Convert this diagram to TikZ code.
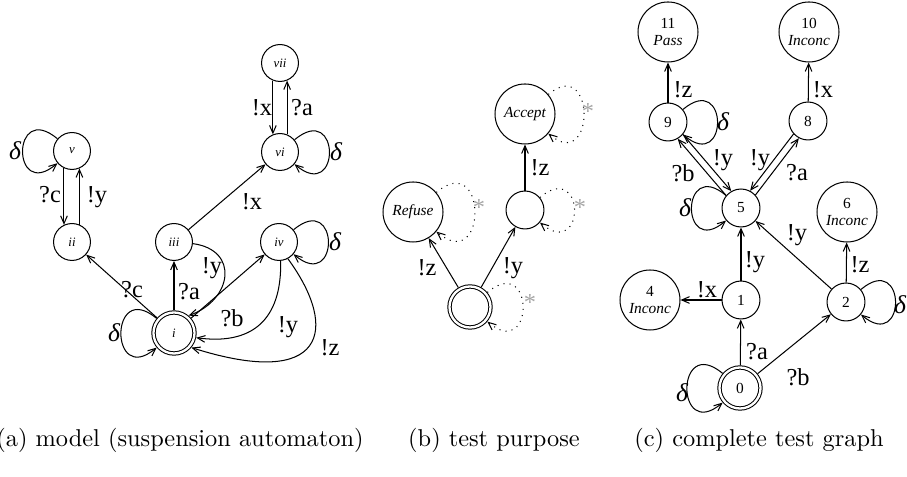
\documentclass[tikz,border=0pt]{standalone}
\usepackage{fontspec}
\newfontfamily\tms{Liberation Serif}
\usetikzlibrary{arrows.meta}
\begin{document}
\begin{tikzpicture}[x=0.39pt,y=-0.39pt,
  arr/.style={-{Straight Barb[length=3pt,width=2.6pt]}},
  sa/.style={circle,draw,inner sep=0pt,minimum size=14.4pt,font=\fontsize{5}{6}\tms\itshape},
  sc/.style={circle,draw,inner sep=0pt,minimum size=14.8pt,font=\fontsize{6}{7}\tms},
  sb/.style={circle,draw,inner sep=0pt,minimum size=23.4pt,font=\fontsize{6}{6.5}\tms\itshape,align=center},
  ini/.style={circle,draw,double,double distance=0.9pt,inner sep=0pt,minimum size=16pt,outer sep=0.85pt},
  lbl/.style={font=\fontsize{9.5}{10}\tms,inner sep=0pt},
  dlt/.style={font=\fontsize{10}{10}\tms\itshape,inner sep=0pt},
  ast/.style={font=\fontsize{9.5}{10}\tms,text=black!35,inner sep=0pt},
  captxt/.style={font=\fontsize{9.5}{11}\selectfont,anchor=base,inner sep=0pt},
]
\useasboundingbox (0,0) rectangle (907,477);
% ---------------- (a)
\node[sa] (v) at (72,151) {v};
\node[sa] (ii) at (72,242) {ii};
\node[sa] (iii) at (174,242) {iii};
\node[sa] (iv) at (279,242) {iv};
\node[ini,font=\fontsize{5}{6}\tms\itshape] (i) at (174,333) {i};
\node[sa] (vi) at (280,152) {vi};
\node[sa] (vii) at (280,63) {vii};
\draw[arr] (v.-115) -- (ii.115);
\draw[arr] (ii.67) -- (v.-67);
\draw[arr] (vii.-112) -- (vi.112);
\draw[arr] (vi.68) -- (vii.-68);
\draw[arr] (i) -- (ii);
\draw[arr] (i) -- (iii);
\draw[arr] (i) -- (iv);
\draw[arr] (iii) -- (vi);
\draw[arr] (iii.-5) .. controls (240,250) and (232,300) .. (i.50);
\draw[arr] (iv.-85) .. controls (282,322) and (250,345) .. (i.-12);
\draw[arr] (iv.-62) .. controls (340,330) and (325,390) .. (i.-40);
\draw[arr] (v) .. controls +(140:31pt) and +(220:31pt) .. (v);
\draw[arr] (i) .. controls +(140:33pt) and +(220:33pt) .. (i);
\draw[arr] (vi) .. controls +(40:31pt) and +(-40:31pt) .. (vi);
\draw[arr] (iv) .. controls +(40:31pt) and +(-40:31pt) .. (iv);
\node[lbl] (la1) at (50,195) {?c};
\node[lbl] (la2) at (97,197) {!y};
\node[lbl] (la3) at (132,290) {?c};
\node[lbl] (la4) at (189,292) {?a};
\node[lbl] (la5) at (212,268) {!y};
\node[lbl] (la6) at (232,318) {?b};
\node[lbl] (la7) at (288,327) {!y};
\node[lbl] (la8) at (330,348) {!z};
\node[lbl] (la9) at (252,202) {!x};
\node[lbl] (la10) at (262,108) {!x};
\node[lbl] (la11) at (302,108) {?a};
\node[dlt] (da1) at (15,151) {δ};
\node[dlt] (da2) at (114,333) {δ};
\node[dlt] (da3) at (336,152) {δ};
\node[dlt] (da4) at (335,242) {δ};
% ---------------- (b)
\node[sb] (ref) at (413,212) {Refuse};
\node[sc] (mid) at (525,210) {};
\node[sb] (acc) at (525,114) {Accept};
\node[ini] (p0) at (470,307) {};
\draw[arr] (p0) -- (ref);
\draw[arr] (p0) -- (mid);
\draw[arr] (mid) -- (acc);
\draw[arr,dotted] (ref) .. controls +(40:38pt) and +(-40:38pt) .. (ref);
\draw[arr,dotted] (acc) .. controls +(40:36pt) and +(-40:36pt) .. (acc);
\draw[arr,dotted] (mid) .. controls +(40:31pt) and +(-40:31pt) .. (mid);
\draw[arr,dotted] (p0) .. controls +(40:33pt) and +(-40:33pt) .. (p0);
\node[lbl] (lb1) at (427,268) {!z};
\node[lbl] (lb2) at (513,268) {!y};
\node[lbl] (lb3) at (540,168) {!z};
\node[ast] (s1) at (479,208) {*};
\node[ast] (s2) at (580,208) {*};
\node[ast] (s3) at (588,112) {*};
\node[ast] (s4) at (530,303) {*};
% ---------------- (c)
\node[sb] (c11) at (668,32) {\upshape 11\\Pass};
\node[sb] (c10) at (809,32) {\upshape 10\\Inconc};
\node[sc] (c9) at (668,122) {9};
\node[sc] (c8) at (808,121) {8};
\node[sc] (c5) at (741,208) {5};
\node[sb] (c6) at (847,212) {\upshape 6\\Inconc};
\node[sb] (c4) at (650,300) {\upshape 4\\Inconc};
\node[sc] (c1) at (741,300) {1};
\node[sc] (c2) at (846,302) {2};
\node[ini,font=\fontsize{6}{7}\tms] (c0) at (740,388) {0};
\draw[arr] (c0) -- (c1);
\draw[arr] (c0) -- (c2);
\draw[arr] (c1) -- (c5);
\draw[arr] (c1) -- (c4);
\draw[arr] (c2) -- (c5);
\draw[arr] (c2) -- (c6);
\draw[arr] (c9) -- (c11);
\draw[arr] (c8) -- (c10);
\draw[arr] (c5.140) -- (c9.-60);
\draw[arr] (c9.-40) -- (c5.120);
\draw[arr] (c5.42) -- (c8.-118);
\draw[arr] (c8.-138) -- (c5.62);
\draw[arr] (c9) .. controls +(40:31pt) and +(-40:31pt) .. (c9);
\draw[arr] (c2) .. controls +(40:31pt) and +(-40:31pt) .. (c2);
\draw[arr] (c5) .. controls +(140:31pt) and +(220:31pt) .. (c5);
\draw[arr] (c0) .. controls +(140:33pt) and +(220:33pt) .. (c0);
\node[lbl] (lc1) at (683,90) {!z};
\node[lbl] (lc2) at (823,90) {!x};
\node[lbl] (lc3) at (683,173) {?b};
\node[lbl] (lc4) at (723,160) {!y};
\node[lbl] (lc5) at (760,160) {!y};
\node[lbl] (lc6) at (797,173) {?a};
\node[lbl] (lc7) at (797,235) {!y};
\node[lbl] (lc8) at (755,262) {!y};
\node[lbl] (lc9) at (860,265) {!z};
\node[lbl] (lc10) at (707,290) {!x};
\node[lbl] (lc11) at (757,352) {?a};
\node[lbl] (lc12) at (798,377) {?b};
\node[dlt] (dc1) at (723,122) {δ};
\node[dlt] (dc2) at (685,208) {δ};
\node[dlt] (dc3) at (900,305) {δ};
\node[dlt] (dc4) at (682,393) {δ};
% captions
\node[captxt] (capa) at (180,447) {(a) model (suspension automaton)};
\node[captxt] (capb) at (494,447) {(b) test purpose};
\node[captxt] (capc) at (759,447) {(c) complete test graph};
\end{tikzpicture}
\end{document}
